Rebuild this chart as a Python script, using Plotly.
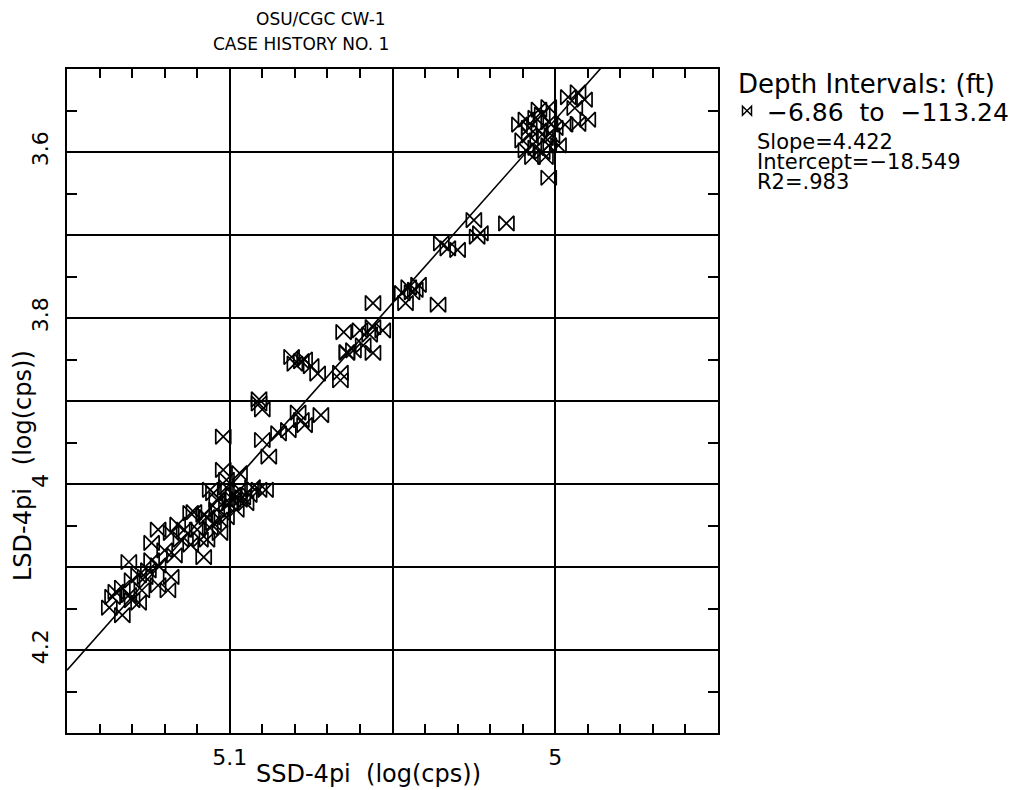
import plotly.graph_objects as go

# ---- data ----
ssd = [5.137, 5.133, 5.136, 5.131, 5.128, 5.131, 5.130, 5.126, 5.124, 5.124,
       5.119, 5.118, 5.122, 5.118, 5.115, 5.112, 5.110, 5.108, 5.107, 5.105,
       5.103, 5.101, 5.099, 5.097, 5.095, 5.091, 5.089, 5.104, 5.106, 5.101,
       5.135, 5.130, 5.127, 5.125, 5.122, 5.128, 5.120, 5.117, 5.114, 5.108,
       5.104, 5.101, 5.098, 5.097, 5.094, 5.099, 5.103, 5.106, 5.112, 5.116,
       5.109, 5.122, 5.133,
       5.111, 5.107, 5.105, 5.101, 5.100, 5.096, 5.093, 5.102, 5.097, 5.102,
       5.090, 5.088, 5.085, 5.082, 5.079, 5.078, 5.077, 5.072, 5.091, 5.090,
       5.091, 5.081, 5.078, 5.077, 5.075, 5.073, 5.080, 5.066, 5.066, 5.064,
       5.062, 5.056, 5.065, 5.060, 5.056, 5.053, 5.057, 5.056, 5.064, 5.059,
       5.047, 5.046, 5.045, 5.043, 5.042, 5.044, 5.036, 5.035, 5.033, 5.030,
       5.025, 5.024, 5.023, 5.015, 5.002,
       5.011, 5.009, 5.006, 5.004, 5.002, 5.000, 5.010, 5.008, 5.005, 5.003,
       5.001, 5.009, 5.006, 5.004, 5.002, 4.999, 5.007, 5.003, 5.005, 4.997,
       5.002, 5.008,
       4.996, 4.993, 4.991, 4.994, 4.990, 4.993]

lsd = [4.149, 4.158, 4.136, 4.134, 4.143, 4.094, 4.116, 4.112, 4.092, 4.071,
       4.128, 4.112, 4.055, 4.059, 4.067, 4.035, 4.055, 4.088, 4.067, 4.047,
       4.059, 4.040, 4.019, 4.007, 4.023, 4.007, 4.007, 4.019, 4.007, 3.995,
       4.130, 4.140, 4.128, 4.104, 4.098, 4.110, 4.080, 4.086, 4.055, 4.037,
       4.031, 4.025, 4.031, 4.019, 4.013, 4.013, 4.043, 4.053, 4.073, 4.049,
       4.067, 4.122, 4.125,
       4.034, 4.040, 4.011, 4.004, 4.023, 4.016, 4.004, 3.983, 3.987, 3.943,
       3.947, 3.967, 3.939, 3.935, 3.914, 3.923, 3.929, 3.917, 3.898, 3.910,
       3.903, 3.847, 3.852, 3.850, 3.858, 3.867, 3.855, 3.866, 3.875, 3.842,
       3.839, 3.842, 3.817, 3.815, 3.811, 3.815, 3.820, 3.782, 3.841, 3.833,
       3.770, 3.782, 3.763, 3.766, 3.760, 3.769, 3.784, 3.710, 3.716, 3.718,
       3.682, 3.702, 3.698, 3.686, 3.631,
       3.567, 3.561, 3.559, 3.555, 3.564, 3.571, 3.586, 3.580, 3.574, 3.583,
       3.580, 3.598, 3.595, 3.600, 3.592, 3.592, 3.606, 3.606, 3.549, 3.567,
       3.546, 3.571,
       3.534, 3.528, 3.537, 3.547, 3.561, 3.566]

slope = 4.422
intercept = -18.549
r2_text = ".983"
legend_title = "Depth Intervals: (ft)"
depth_label = "\u22126.86  to  \u2212113.24"

x_range = [5.15, 4.95]
y_range = [4.3, 3.5]
x_tickvals = [5.1, 5.05, 5.0]
x_ticktext = ["5.1", "", "5"]
y_tickvals = [3.6, 3.7, 3.8, 3.9, 4.0, 4.1, 4.2]
y_ticktext = ["3.6", "", "3.8", "", "4", "", "4.2"]

FONT = "DejaVu Sans, Liberation Sans, sans-serif"

# fit line across the axis range
fit_x = [x_range[0], x_range[1]]
fit_y = [slope * v + intercept for v in fit_x]

fig = go.Figure()
fig.add_trace(go.Scatter(
    x=fit_x, y=fit_y, mode="lines",
    line=dict(color="black", width=1.6), showlegend=False, hoverinfo="skip"))
fig.add_trace(go.Scatter(
    x=ssd, y=lsd, mode="markers", showlegend=False,
    marker=dict(symbol="bowtie-open", size=15, color="black",
                line=dict(color="black", width=1.7))))
fig.add_trace(go.Scatter(
    x=[None], y=[None], mode="markers", name=depth_label,
    marker=dict(symbol="bowtie-open", size=9, color="black",
                line=dict(color="black", width=1.5))))

axis_common = dict(
    showgrid=True, gridcolor="black", gridwidth=1.5,
    showline=True, linecolor="black", linewidth=2, mirror="allticks",
    ticks="inside", ticklen=9, tickwidth=1.5, tickcolor="black",
    zeroline=False, tickfont=dict(family=FONT, size=22, color="black"),
)

fig.update_xaxes(
    range=x_range, tickmode="array", tickvals=x_tickvals, ticktext=x_ticktext,
    ticklabelstandoff=4,
    minor=dict(tickmode="linear", tick0=5.0, dtick=0.01, ticks="inside",
               ticklen=9, tickwidth=1.5, tickcolor="black", showgrid=False),
    **axis_common)
fig.update_yaxes(
    range=y_range, tickmode="array", tickvals=y_tickvals, ticktext=y_ticktext,
    tickangle=-90, ticklabelstandoff=8,
    minor=dict(tickmode="linear", tick0=3.55, dtick=0.05, ticks="inside",
               ticklen=10, tickwidth=1.5, tickcolor="black", showgrid=False),
    **axis_common)

# page has an 8px body margin; work in page pixels
OFF = 8
W, H = 1023, 782
L, T = 67 - OFF, 69 - OFF
R = W - (718 - OFF)
B = H - (733 - OFF)
pw, ph = W - L - R, H - T - B


def px(xp):
    return (xp - OFF - L) / pw


def py(yp):
    return (T + ph - (yp - OFF)) / ph


ann = []
ann.append(dict(text="OSU/CGC CW-1", x=px(388), y=py(19), xanchor="right", yanchor="middle",
                font=dict(family=FONT, size=17, color="black")))
ann.append(dict(text="CASE HISTORY NO. 1", x=px(391), y=py(44), xanchor="right", yanchor="middle",
                font=dict(family=FONT, size=17, color="black")))
ann.append(dict(text="SSD-4pi  (log(cps))", x=px(368), y=py(774), xanchor="center", yanchor="middle",
                font=dict(family=FONT, size=24, color="black")))
ann.append(dict(text="LSD-4pi   (log(cps))", x=px(23), y=py(466), xanchor="center", yanchor="middle",
                textangle=-90, font=dict(family=FONT, size=24, color="black")))
ann.append(dict(text=legend_title, x=px(736), y=py(84), xanchor="left", yanchor="middle",
                font=dict(family=FONT, size=26, color="black")))
stats = [f"Slope={slope:.3f}", f"Intercept=\u2212{abs(intercept):.3f}", f"R2={r2_text}"]
for i, t in enumerate(stats):
    ann.append(dict(text=t, x=px(755), y=py(142 + 20 * i), xanchor="left", yanchor="middle",
                    font=dict(family=FONT, size=21, color="black")))
for a in ann:
    a.update(xref="paper", yref="paper", showarrow=False)

fig.update_layout(
    width=W, height=H, margin=dict(l=L, r=R, t=T, b=B, autoexpand=False),
    paper_bgcolor="white", plot_bgcolor="white",
    annotations=ann,
    legend=dict(x=px(727), y=py(111), xanchor="left", yanchor="middle",
                bgcolor="rgba(0,0,0,0)", itemwidth=30, tracegroupgap=0,
                font=dict(family=FONT, size=25, color="black")),
)

fig.write_html("out.html")
